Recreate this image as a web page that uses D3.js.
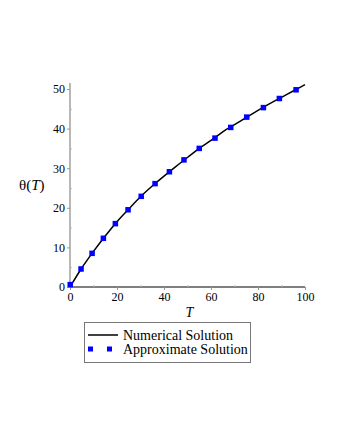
<!DOCTYPE html>
<html><head><meta charset="utf-8">
<script src="https://cdn.jsdelivr.net/npm/d3@7/dist/d3.min.js"></script>
<style>body{margin:0;background:#fff}</style>
</head><body>
<script>
const lineT = [0,5,10,15,20,25,30,35,40,45,50,55,60,65,70,75,80,85,90,95,100];
const lineTheta = [0,4.8,9.0,12.9,16.5,19.7,22.8,25.5,28.0,30.4,32.7,35.0,37.0,39.2,41.0,42.8,44.6,46.3,47.9,49.5,51.1];
const pointT = [0.1,4.7,9.4,14.2,19.3,24.7,30.3,36.2,42.3,48.5,55.0,61.7,68.4,75.2,82.3,89.1,96.2];
const pointTheta = [0.6,4.55,8.5,12.3,16.0,19.5,22.9,26.1,29.1,32.1,35.0,37.6,40.3,42.9,45.3,47.6,49.8];
const xTicks = [0,20,40,60,80,100];
const yTicks = [0,10,20,30,40,50];
const legendLabels = ["Numerical Solution","Approximate Solution"];

const W=340,H=440;
const svg=d3.select("body").append("svg").attr("width",W).attr("height",H)
  .style("font-family","'Liberation Serif', 'Times New Roman', serif");
const x=d3.scaleLinear().domain([0,100]).range([70,305]);
const y=d3.scaleLinear().domain([0,50]).range([287,89]);

// y axis (grey)
const ya=svg.append("g").attr("transform","translate(70,0)")
  .call(d3.axisLeft(y).tickValues(yTicks).tickSize(3).tickPadding(2));
ya.select(".domain").attr("stroke","#888").attr("stroke-width",1.2).attr("d",`M0,${y(0)}V${y(51.5)}`);
ya.selectAll(".tick line").attr("stroke","#999");
ya.selectAll("text").attr("font-size",12).attr("font-family","'Liberation Serif', serif").attr("fill","#000");
svg.append("g").attr("transform","translate(70,0)")
  .call(d3.axisRight(y).tickValues([5,15,25,35,45]).tickSize(2).tickFormat(""))
  .call(g=>{g.select(".domain").remove();g.selectAll("line").attr("stroke","#bbb");});

// x axis (black)
const xa=svg.append("g").attr("transform",`translate(0,${y(0)})`)
  .call(d3.axisBottom(x).tickValues(xTicks).tickSize(3).tickPadding(2));
xa.select(".domain").attr("stroke","#000").attr("stroke-width",1.2).attr("d",`M${x(0)},0H${x(100)}`);
xa.selectAll(".tick line").attr("stroke","#999");
xa.selectAll("text").attr("font-size",12).attr("font-family","'Liberation Serif', serif").attr("fill","#000");
svg.append("g").attr("transform",`translate(0,${y(0)})`)
  .call(d3.axisTop(x).tickValues([10,30,50,70,90]).tickSize(2).tickFormat(""))
  .call(g=>{g.select(".domain").remove();g.selectAll("line").attr("stroke","#bbb");});

// labels
svg.append("text").attr("x",x(50)+2).attr("y",317).attr("text-anchor","middle")
  .attr("font-size",14).attr("font-style","italic").text("T");
const yl=svg.append("text").attr("x",19).attr("y",190).attr("font-size",15);
yl.append("tspan").text("θ(");
yl.append("tspan").attr("font-style","italic").text("T");
yl.append("tspan").text(")");

// line
const data=lineT.map((t,i)=>[t,lineTheta[i]]);
svg.append("path").datum(data).attr("fill","none").attr("stroke","#000").attr("stroke-width",1.5)
  .attr("d",d3.line().x(d=>x(d[0])).y(d=>y(d[1])).curve(d3.curveMonotoneX));

// points
const pts=pointT.map((t,i)=>[t,pointTheta[i]]);
svg.append("g").selectAll("rect").data(pts).join("rect")
  .attr("x",d=>x(d[0])-2.75).attr("y",d=>y(d[1])-2.75).attr("width",5.5).attr("height",5.5)
  .attr("fill","#0000ff");

// legend
const lg=svg.append("g");
lg.append("rect").attr("x",84.5).attr("y",322.5).attr("width",166).attr("height",40)
  .attr("fill","none").attr("stroke","#777").attr("stroke-width",1);
lg.append("line").attr("x1",88).attr("x2",118).attr("y1",335).attr("y2",335).attr("stroke","#000").attr("stroke-width",1.5);
[88,107].forEach(px=>lg.append("rect").attr("x",px).attr("y",346.5).attr("width",5).attr("height",5).attr("fill","#0000ff"));
lg.selectAll("text.l").data(legendLabels).join("text").attr("class","l")
  .attr("x",123).attr("y",(d,i)=>339.5+i*14.5).attr("font-size",14).text(d=>d);
</script>
</body></html>
